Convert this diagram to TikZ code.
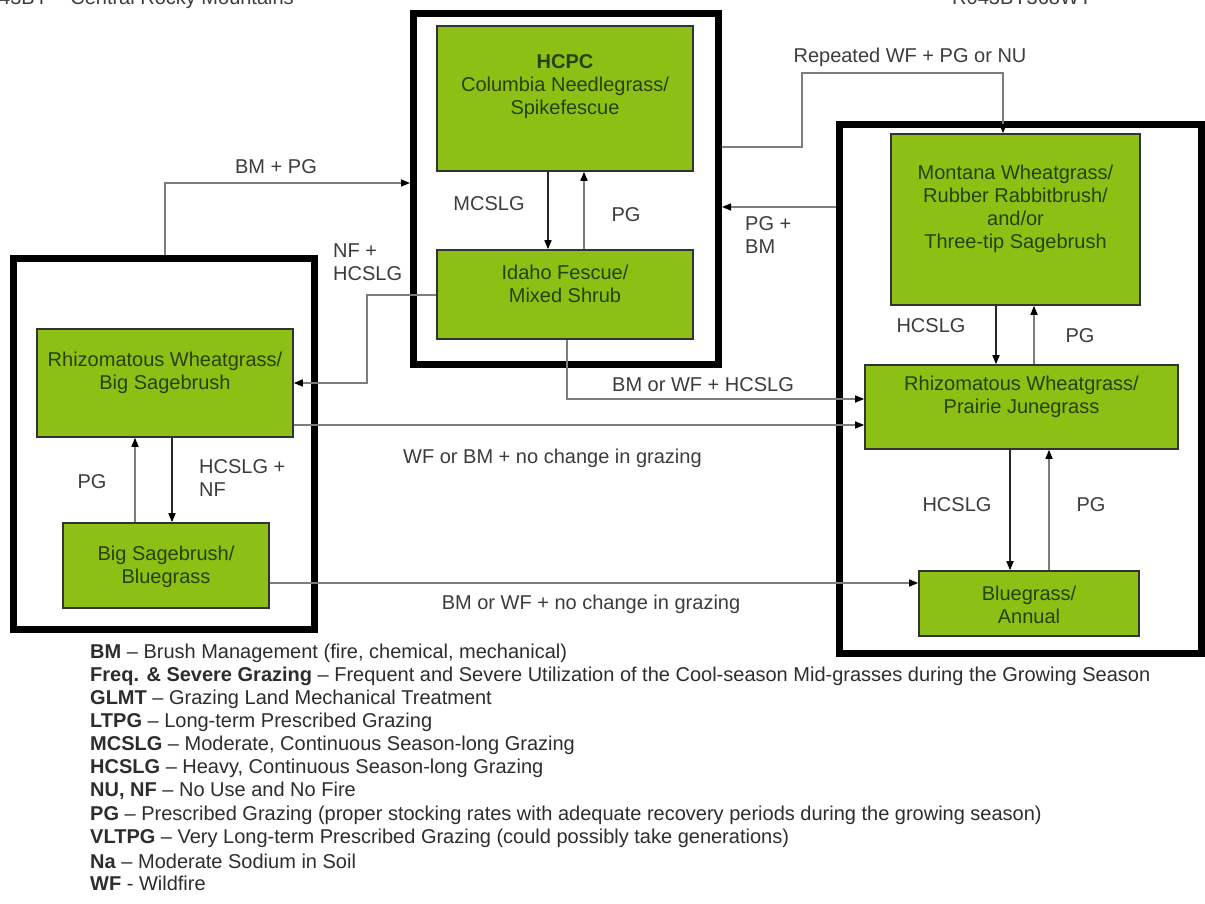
\documentclass[tikz,border=0pt]{standalone}
\usepackage{fontspec}
\setmainfont{Liberation Sans}
\usetikzlibrary{arrows.meta}
\definecolor{boxfill}{RGB}{140,192,20}
\definecolor{boxtext}{RGB}{38,66,10}
\definecolor{lbl}{RGB}{60,60,60}
\definecolor{lgray}{RGB}{125,125,125}
\definecolor{lgd}{RGB}{45,45,45}
\begin{document}
\begin{tikzpicture}[x=1pt,y=-1pt,
  frame/.style={draw=black,line width=7pt,inner sep=0pt},
  sbox/.style={draw=black!80,line width=1.6pt,fill=boxfill,inner sep=0pt},
  btext/.style={text=boxtext,align=center,font=\fontsize{20}{23}\selectfont,inner sep=0pt},
  lab/.style={text=lbl,font=\fontsize{20}{23}\selectfont,inner sep=0pt},
  labl/.style={lab,align=left,anchor=north west},
  tip/.style={-{Triangle[length=9pt,width=7pt,color=black]}},
  gr/.style={tip,draw=lgray,line width=1.5pt},
  dk/.style={tip,draw=black!85,line width=1.5pt},
  leg/.style={anchor=west,text=lgd,font=\fontsize{20}{23}\selectfont,inner sep=0pt}]
\useasboundingbox (0,0) rectangle (1205,904);
\clip (0,0) rectangle (1205,904);
\fill[white] (0,0) rectangle (1205,904);

% header (cut off at the top edge, as in the reference)
\node[lab,anchor=base west] (hdrL) at (-1,5) {43BY – Central Rocky Mountains};
\node[lab,anchor=base west] (hdrR) at (952,5) {R043BY368WY};

% frames
\node[frame,minimum width=305pt,minimum height=351pt] (fC) at (566,189) {};
\node[frame,minimum width=301pt,minimum height=371pt] (fL) at (164,444) {};
\node[frame,minimum width=362pt,minimum height=529pt] (fR) at (1020.5,389) {};

% state boxes
\node[sbox,minimum width=256pt,minimum height=145pt] (hcpc) at (565,98.5) {};
\node[btext] (hcpcT) at (565,87) {{\bfseries HCPC}\\Columbia Needlegrass/\\Spikefescue};
\node[sbox,minimum width=256pt,minimum height=89pt] (idaho) at (565,294.5) {};
\node[btext] (idahoT) at (565,284) {Idaho Fescue/\\Mixed Shrub};
\node[sbox,minimum width=256pt,minimum height=108pt] (rhizbig) at (165,383) {};
\node[btext] (rhizbigT) at (165,373) {Rhizomatous Wheatgrass/\\Big Sagebrush};
\node[sbox,minimum width=206pt,minimum height=85pt] (bigsage) at (166,565.5) {};
\node[btext] (bigsageT) at (166,566.5) {Big Sagebrush/\\Bluegrass};
\node[sbox,minimum width=249pt,minimum height=171pt] (montana) at (1015.5,219.5) {};
\node[btext] (montanaT) at (1015.5,209) {Montana Wheatgrass/\\Rubber Rabbitbrush/\\and/or\\Three-tip Sagebrush};
\node[sbox,minimum width=313pt,minimum height=84pt] (rhizpr) at (1021.5,407) {};
\node[btext] (rhizprT) at (1021.5,396.5) {Rhizomatous Wheatgrass/\\Prairie Junegrass};
\node[sbox,minimum width=220pt,minimum height=65pt] (bluegrass) at (1029,603.5) {};
\node[btext] (bluegrassT) at (1029,604.5) {Bluegrass/\\Annual};

% helper coordinates
\coordinate (xa) at (548,0);
\coordinate (xb) at (584,0);
\coordinate (xc) at (135,0);
\coordinate (xd) at (172,0);
\coordinate (xe) at (996,0);
\coordinate (xf) at (1034,0);
\coordinate (xg) at (1010,0);
\coordinate (xh) at (1049,0);
\coordinate (bmpg) at (165,183);
\coordinate (nfy) at (367,295);
\coordinate (rw1) at (802,147);
\coordinate (rw2) at (1003,73);
\coordinate (pgy) at (0,207);
\coordinate (bw) at (567,399);
\coordinate (wy) at (0,425);
\coordinate (by) at (0,583);

% connectors
\draw[dk] (hcpc.south -| xa) -- (idaho.north -| xa);
\draw[gr] (idaho.north -| xb) -- (hcpc.south -| xb);
\draw[gr] (bigsage.north -| xc) -- (rhizbig.south -| xc);
\draw[dk] (rhizbig.south -| xd) -- (bigsage.north -| xd);
\draw[dk] (montana.south -| xe) -- (rhizpr.north -| xe);
\draw[gr] (rhizpr.north -| xf) -- (montana.south -| xf);
\draw[dk] (rhizpr.south -| xg) -- (bluegrass.north -| xg);
\draw[gr] (bluegrass.north -| xh) -- (rhizpr.south -| xh);
\draw[gr] (fL.north -| bmpg) |- (fC.west |- bmpg);
\draw[gr] (idaho.west |- nfy) -- (nfy) |- (rhizbig.east);
\draw[gr] (fC.east |- rw1) -- (rw1) |- (rw2) -- (montana.north -| rw2);
\draw[gr] (fR.west |- pgy) -- (fC.east |- pgy);
\draw[gr] (idaho.south -| bw) -- (bw) -- (rhizpr.west |- bw);
\draw[gr] (rhizbig.east |- wy) -- (rhizpr.west |- wy);
\draw[gr] (bigsage.east |- by) -- (bluegrass.west |- by);

% connector labels
\node[lab] (l1) at (276,167) {BM + PG};
\node[labl] (l2) at (333,244) {NF +\\HCSLG};
\node[lab] (l3) at (489,204) {MCSLG};
\node[lab] (l4) at (626,215) {PG};
\node[lab] (l5) at (910,57) {Repeated WF + PG or NU};
\node[labl] (l6) at (745,216) {PG +\\BM};
\node[lab] (l7) at (931,326) {HCSLG};
\node[lab] (l8) at (1080,336) {PG};
\node[lab] (l9) at (703,385) {BM or WF + HCSLG};
\node[lab,anchor=west] (l10) at (403,458) {WF or BM + no change in grazing};
\node[labl] (l11) at (199,459) {HCSLG +\\NF};
\node[lab] (l12) at (92,482) {PG};
\node[lab] (l13) at (957,505) {HCSLG};
\node[lab] (l14) at (1091,505) {PG};
\node[lab] (l15) at (591,604) {BM or WF + no change in grazing};

% legend
\node[leg] (g1) at (90,653) {\textbf{BM} – Brush Management (fire, chemical, mechanical)};
\node[leg] (g2) at (90,676) {\textbf{Freq. \& Severe Grazing} – Frequent and Severe Utilization of the Cool-season Mid-grasses during the Growing Season};
\node[leg] (g3) at (90,699) {\textbf{GLMT} – Grazing Land Mechanical Treatment};
\node[leg] (g4) at (90,722) {\textbf{LTPG} – Long-term Prescribed Grazing};
\node[leg] (g5) at (90,745) {\textbf{MCSLG} – Moderate, Continuous Season-long Grazing};
\node[leg] (g6) at (90,768) {\textbf{HCSLG} – Heavy, Continuous Season-long Grazing};
\node[leg] (g7) at (90,791) {\textbf{NU, NF} – No Use and No Fire};
\node[leg] (g8) at (90,815) {\textbf{PG} – Prescribed Grazing (proper stocking rates with adequate recovery periods during the growing season)};
\node[leg] (g9) at (90,838) {\textbf{VLTPG} – Very Long-term Prescribed Grazing (could possibly take generations)};
\node[leg] (g10) at (90,861) {\textbf{Na} – Moderate Sodium in Soil};
\node[leg] (g11) at (90,883) {\textbf{WF} - Wildfire};
\end{tikzpicture}
\end{document}
